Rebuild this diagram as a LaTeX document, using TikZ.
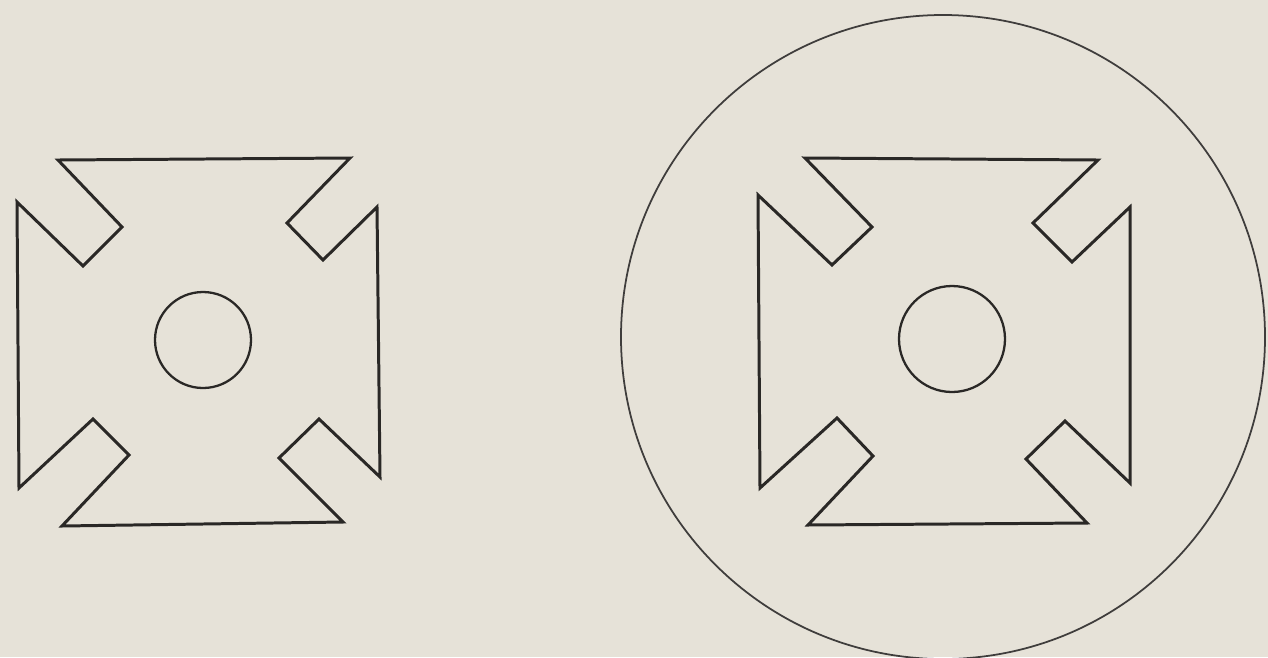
\documentclass[tikz,border=0pt]{standalone}
\usepackage{xcolor}
\usepackage{tikz}
\definecolor{paperbg}{HTML}{E6E2D8}
\definecolor{ink}{HTML}{2A2826}
\tikzset{
  plate figure/.style={
    x=0.02cm, y=-0.02cm,
    line cap=round,
    line join=miter
  },
  crossline/.style={
    draw=ink,
    line width=1.7pt
  },
  holeline/.style={
    draw=ink,
    line width=1.3pt
  },
  ringline/.style={
    draw=ink!90,
    line width=1pt
  }
}
\begin{document}
\begin{tikzpicture}[plate figure]
\fill[paperbg] (0,0) rectangle (1268,657);
\useasboundingbox (0,0) rectangle (1268,657);

% left cross
\draw[crossline] (58,160) -- (350,158) -- (287,223) -- (323,260) -- (377,207)
  -- (380,477) -- (319,419) -- (279,458) -- (343,522) -- (62,526)
  -- (129,455) -- (93,419) -- (19,488) -- (17,202) -- (83,266)
  -- (122,227) -- cycle;
\draw[holeline] (203,340) circle[radius=48];

% right cross, inside the ring
\draw[ringline] (943,337) circle[radius=322];
\draw[crossline] (805,158) -- (1098,160) -- (1033,223) -- (1072,262) -- (1130,207)
  -- (1130,483) -- (1065,421) -- (1026,459) -- (1087,523) -- (808,525)
  -- (873,456) -- (837,418) -- (760,488) -- (758,195) -- (832,265)
  -- (872,227) -- cycle;
\draw[holeline] (952,339) circle[radius=53];
\end{tikzpicture}
\end{document}
